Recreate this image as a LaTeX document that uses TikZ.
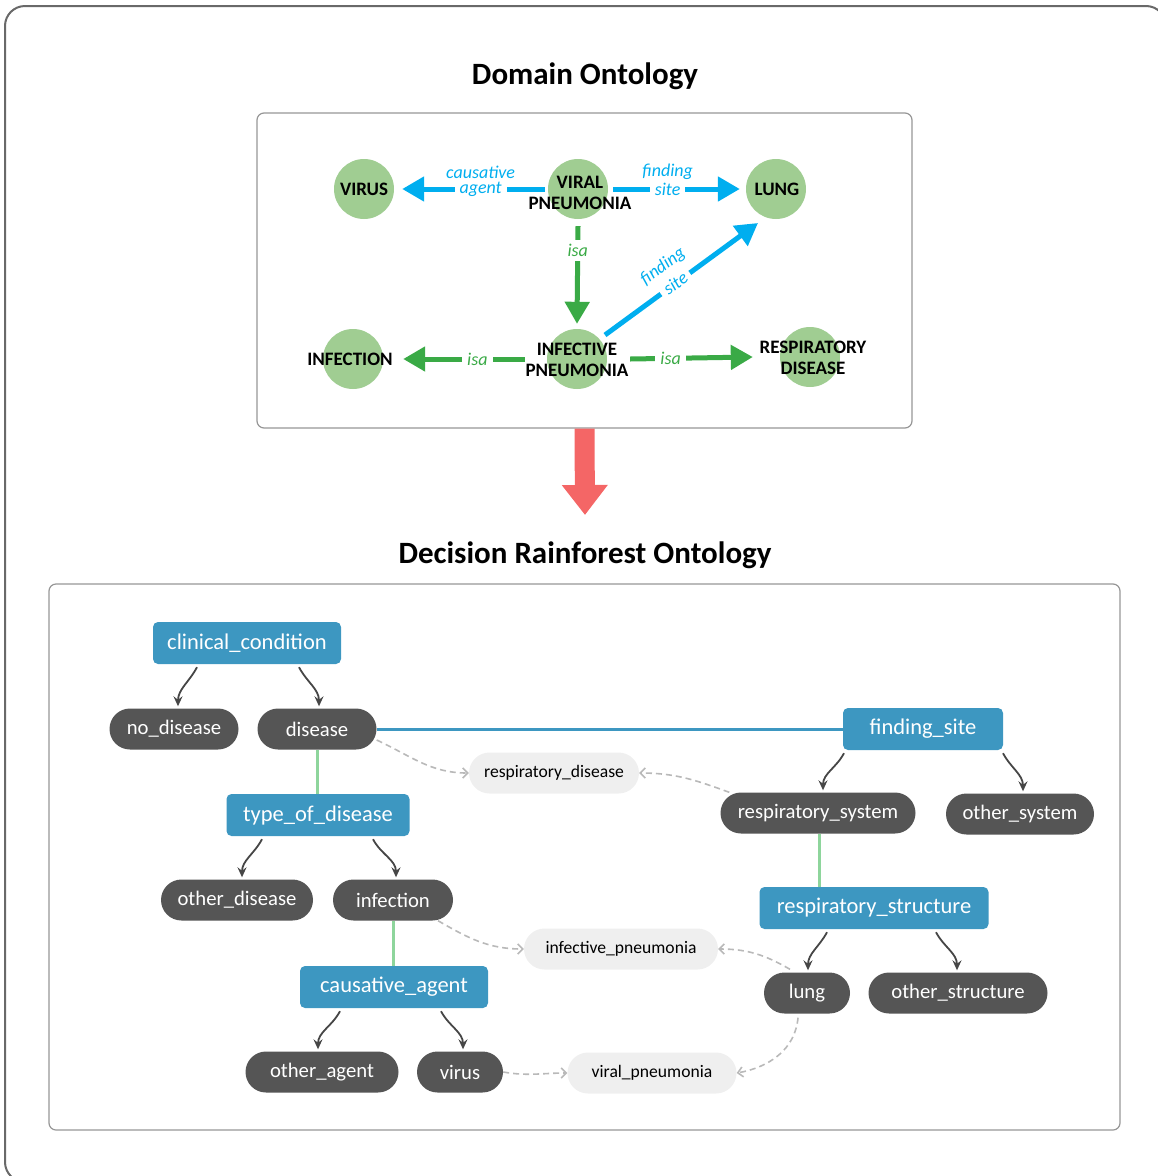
\documentclass[tikz,border=0pt]{standalone}
\usepackage{fontspec}
\setmainfont{Carlito}
\usetikzlibrary{arrows.meta}

\definecolor{framegray}{RGB}{105,105,105}
\definecolor{panelgray}{RGB}{150,150,150}
\definecolor{leafgreen}{RGB}{160,205,146}
\definecolor{relblue}{RGB}{0,174,239}
\definecolor{isagreen}{RGB}{58,170,70}
\definecolor{attrblue}{RGB}{61,151,193}
\definecolor{valgray}{RGB}{85,85,85}
\definecolor{instgray}{RGB}{239,239,239}
\definecolor{linkgreen}{RGB}{142,213,156}
\definecolor{dashgray}{RGB}{185,185,185}
\definecolor{bigred}{RGB}{244,102,102}
\definecolor{treegray}{RGB}{70,70,70}

\begin{document}
\begin{tikzpicture}[x=1pt,y=1pt,
    panel/.style={draw=panelgray,line width=1.2pt,rounded corners=7pt,inner sep=0pt},
    heading/.style={font=\fontsize{31}{36}\selectfont\bfseries,anchor=base},
    cnode/.style={circle,fill=leafgreen,minimum size=60pt,inner sep=0pt},
    cname/.style={font=\fontsize{19}{21}\selectfont\bfseries,align=center,inner sep=0pt},
    relarrow/.style={line width=5pt,-{Triangle[length=22pt,width=24pt]}},
    rel/.style={font=\fontsize{18}{20}\selectfont\itshape,inner xsep=5pt,inner ysep=1pt},
    attr/.style={fill=attrblue,rounded corners=5pt,text=white,minimum height=42pt,font=\fontsize{22.5}{26}\selectfont,inner sep=0pt},
    valnode/.style={fill=valgray,rounded corners=20.5pt,text=white,minimum height=41pt,font=\fontsize{20.7}{24}\selectfont,inner sep=0pt},
    inst/.style={fill=instgray,rounded corners=20.5pt,minimum height=41pt,font=\fontsize{17.6}{20}\selectfont,inner sep=0pt},
    tree/.style={treegray,line width=1.8pt,-{Stealth[length=10pt,width=9pt,inset=3.5pt]}},
    link/.style={line width=3pt},
    derive/.style={dashgray,line width=1.6pt,dash pattern=on 6pt off 4pt,-{Straight Barb[length=5pt,width=10pt]}}
  ]
\useasboundingbox (0,0) rectangle (1158,-1176);

% frame and panels
\draw[framegray,line width=2pt,rounded corners=20pt] (5,-6) rectangle (1166,-1182);
\node[heading] (domtitle) at (585,-84) {Domain Ontology};
\node[panel,minimum width=655pt,minimum height=315pt] (dombox) at (584.5,-270.5) {};
\node[heading] (drtitle) at (585,-563) {Decision Rainforest Ontology};
\node[panel,minimum width=1071pt,minimum height=546pt] (drbox) at (584.5,-857) {};

\coordinate (redtip) at (585,-515);
\draw[bigred,line width=20pt,-{Triangle[length=30pt,width=44pt]}] (dombox.south) -- (redtip);

% domain ontology
\node[cnode] (cvirus) at (364,-189) {};
\node[cnode] (cviral) at (578,-189) {};
\node[cnode] (clung) at (776,-189) {};
\node[cnode] (cinfection) at (353,-359) {};
\node[cnode] (cinfective) at (577,-359) {};
\node[cnode] (crespdis) at (810,-357) {};

\draw[relarrow,relblue] ([xshift=-3pt]cviral.west) -- ([xshift=8pt]cvirus.east)
  node[rel,fill=white,text=relblue,pos=0.45] (agentlbl) {agent}
  node[rel,text=relblue,pos=0.45,yshift=17pt] (causlbl) {causative};
\draw[relarrow,relblue] ([xshift=5pt]cviral.east) -- ([xshift=-6pt]clung.west)
  node[rel,fill=white,text=relblue,pos=0.43] (sitelbl) {site}
  node[rel,text=relblue,pos=0.43,yshift=17pt] (findlbl) {finding};
\draw[relarrow,relblue] ([shift={(28pt,24pt)}]cinfective.center) -- ([shift={(-18pt,-34pt)}]clung.center)
  node[rel,fill=white,text=relblue,pos=0.46,sloped] (sitelbltwo) {site}
  node[rel,text=relblue,pos=0.46,sloped,yshift=21pt] (findlbltwo) {finding};
\draw[relarrow,isagreen] ([yshift=-7pt]cviral.south) -- ([yshift=5pt]cinfective.north)
  node[rel,fill=white,text=isagreen,pos=0.25,inner xsep=1pt,inner ysep=4pt] (isaone) {isa};
\draw[relarrow,isagreen] ([xshift=-22pt]cinfective.west) -- ([xshift=20pt]cinfection.east)
  node[rel,fill=white,text=isagreen,pos=0.39] (isatwo) {isa};
\draw[relarrow,isagreen] ([xshift=23pt]cinfective.east) -- ([xshift=-27pt]crespdis.west)
  node[rel,fill=white,text=isagreen,pos=0.33] (isathree) {isa};

\node[cname] (tvirus) at (364,-189) {VIRUS};
\node[cname] (tviral) at (580,-193) {VIRAL\\PNEUMONIA};
\node[cname] (tlung) at (777,-189) {LUNG};
\node[cname] (tinfection) at (350,-359) {INFECTION};
\node[cname] (tinfective) at (577,-360) {INFECTIVE\\PNEUMONIA};
\node[cname] (trespdis) at (813,-358) {RESPIRATORY\\DISEASE};

% decision rainforest ontology
\node[attr,minimum width=188pt] (cc) at (247,-643) {clinical\_condition};
\node[valnode,minimum width=129pt] (nodis) at (174,-729) {no\_disease};
\node[valnode,minimum width=119pt] (dis) at (317,-729) {disease};
\node[attr,minimum width=160pt] (fs) at (923,-729) {finding\_site};
\node[attr,minimum width=183pt] (tod) at (318,-815) {type\_of\_disease};
\node[valnode,minimum width=195pt] (ressys) at (818,-813) {respiratory\_system};
\node[valnode,minimum width=148pt] (othsys) at (1020,-814) {other\_system};
\node[valnode,minimum width=152pt] (othdis) at (237,-900) {other\_disease};
\node[valnode,minimum width=120pt] (infect) at (393,-900) {infection};
\node[attr,minimum width=229pt] (rst) at (874,-908) {respiratory\_structure};
\node[attr,minimum width=188pt] (ca) at (394,-987) {causative\_agent};
\node[valnode,minimum width=86pt] (lung) at (807,-993) {lung};
\node[valnode,minimum width=179pt] (othstr) at (958,-993) {other\_structure};
\node[valnode,minimum width=153pt] (othag) at (322,-1072) {other\_agent};
\node[valnode,minimum width=86pt] (virus) at (460,-1072) {virus};
\node[inst,minimum width=170pt] (resdis) at (554,-773) {respiratory\_disease};
\node[inst,minimum width=194pt] (infpn) at (621,-949) {infective\_pneumonia};
\node[inst,minimum width=169pt] (virpn) at (652,-1073) {viral\_pneumonia};

\draw[link,attrblue] (dis.east) -- (fs.west);
\draw[link,linkgreen] (dis.south) -- (dis.south |- tod.north);
\draw[link,linkgreen] (infect.south) -- (infect.south |- ca.north);
\draw[link,linkgreen] ([xshift=1pt]ressys.south) -- ([xshift=1pt]ressys.south |- rst.north);

\foreach \up/\down/\sx/\ex/\o in {cc/nodis/-50/4/-118, cc/dis/52/2/-62,
    tod/othdis/-56/5/-118, tod/infect/55/3/-62, fs/ressys/-79/5/-118,
    fs/othsys/80/3/-62, rst/lung/-47/1/-118, rst/othstr/62/-1/-62,
    ca/othag/-54/-4/-118, ca/virus/47/3/-62}
  \draw[tree] ([shift={(\sx pt,-3pt)}]\up.south) to[out=\o,in=90] ([shift={(\ex pt,2pt)}]\down.north);

\draw[derive] ([yshift=-11pt]dis.east) to[out=-25,in=180] (resdis.west);
\draw[derive] ([xshift=9pt]ressys.north west) to[out=160,in=0] (resdis.east);
\draw[derive] ([xshift=45pt]infect.south) to[out=-30,in=180] (infpn.west);
\draw[derive] ([shift={(-17pt,3pt)}]lung.north) to[out=150,in=0] (infpn.east);
\draw[derive] (virus.east) to[out=-10,in=180] (virpn.west);
\draw[derive] ([shift={(-9pt,-4pt)}]lung.south) to[out=-95,in=10] (virpn.east);

\end{tikzpicture}
\end{document}
